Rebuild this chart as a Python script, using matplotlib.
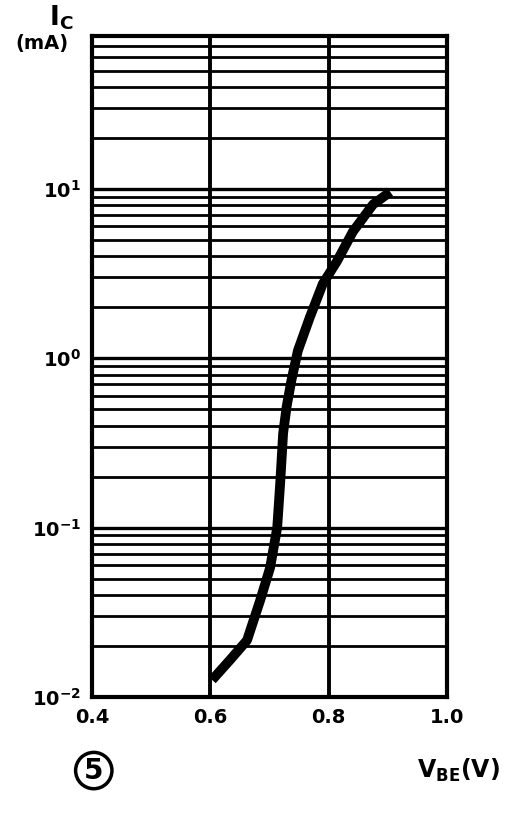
"""
Ic vs Vbe transfer curve (log scale), scanned datasheet style.
"""

import numpy as np
import matplotlib
matplotlib.use("Agg")
import matplotlib.pyplot as plt
from matplotlib.ticker import LogLocator, NullFormatter

# curve
vbe = [0.603, 0.633, 0.662, 0.684, 0.701, 0.713, 0.718, 0.723, 0.729,
       0.737, 0.748, 0.768, 0.790, 0.814, 0.841, 0.875, 0.904]
ic = [0.0126, 0.0165, 0.0216, 0.037, 0.058, 0.10, 0.182, 0.36, 0.52,
      0.74, 1.11, 1.74, 2.75, 3.74, 5.6, 8.1, 9.6]

x_ticks = [0.4, 0.6, 0.8, 1.0]
x_labels = ["0.4", "0.6", "0.8", "1.0"]
y_ticks = [1e-2, 1e-1, 1e0, 1e1]
y_labels = [r"$\mathbf{10^{-2}}$", r"$\mathbf{10^{-1}}$", r"$\mathbf{10^{0}}$", r"$\mathbf{10^{1}}$"]

#=============================
# figure
#=============================

fig = plt.figure(figsize=(5.21, 8.18), dpi=100)
ax = fig.add_axes([0.1766, 0.148, 0.6814, 0.808])

ax.set_yscale("log")
ax.set_xlim(0.4, 1.0)
ax.set_ylim(1e-2, 80)

# grid: every log subdivision, plus the two inner volt lines
ax.yaxis.set_major_locator(LogLocator(base=10, numticks=10))
ax.yaxis.set_minor_locator(LogLocator(base=10, subs=np.arange(2, 10), numticks=20))
ax.yaxis.set_minor_formatter(NullFormatter())
ax.grid(which="major", axis="y", color="black", lw=2.4)
ax.grid(which="minor", axis="y", color="black", lw=2.0)
for xv in [0.6, 0.8]:
    ax.axvline(xv, color="black", lw=2.8)

for s in ax.spines.values():
    s.set_linewidth(3)

ax.plot(vbe, ic, color="black", lw=7, solid_capstyle="butt",
        solid_joinstyle="round", zorder=5)

ax.set_xticks(x_ticks)
ax.set_xticklabels(x_labels, fontsize=14, fontweight="bold")
ax.set_yticks(y_ticks)
ax.set_yticklabels(y_labels, fontsize=14)
ax.tick_params(which="both", length=0, pad=8)

# axis titles
fig.text(0.095, 0.978, r"$\mathbf{I_C}$", fontsize=19, ha="left", va="center")
fig.text(0.03, 0.947, "(mA)", fontsize=14, fontweight="bold", ha="left", va="center")
fig.text(0.80, 0.058, r"$\mathbf{V_{BE}}$(V)", fontsize=17, fontweight="bold",
         ha="left", va="center")
fig.text(0.18, 0.058, "5", fontsize=20, fontweight="bold", ha="center", va="center",
         bbox=dict(boxstyle="circle,pad=0.15", fc="white", ec="black", lw=2.5))

fig.savefig("out.png", dpi=100)
